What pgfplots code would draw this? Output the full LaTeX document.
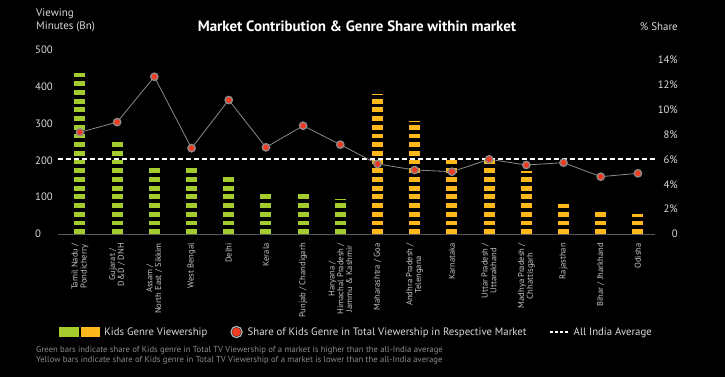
\documentclass[border=0pt]{standalone}
\usepackage{pgfplots}
\pgfplotsset{compat=1.18}
\usepackage{fontspec}
\setmainfont{PT Sans}
\definecolor{kgreen}{HTML}{A4CC2E}
\definecolor{korange}{HTML}{FFB81C}
\definecolor{kred}{HTML}{F03C23}
\definecolor{ringgray}{HTML}{8C8C8C}
\definecolor{ringlight}{HTML}{B4B4B4}
\definecolor{linegray}{HTML}{8A8A8A}
\definecolor{tickgray}{HTML}{D9D9D9}
\definecolor{labgray}{HTML}{C8C8C8}
\definecolor{footgray}{HTML}{8C8C8C}
\definecolor{axisgray}{HTML}{5A5A5A}
\begin{document}
\begin{tikzpicture}
\useasboundingbox (0bp,0bp) rectangle (725bp,-377bp);
\fill[black] (0bp,0bp) rectangle (725bp,-377bp);
\begin{axis}[
  at={(58bp,-234bp)}, anchor=south west,
  scale only axis, width=597bp, height=184bp,
  xmin=-0.59, xmax=15.46, ymin=0, ymax=500,
  clip=false,
  axis x line*=bottom, axis y line*=left,
  x axis line style={draw=axisgray, line width=0.6bp, -},
  y axis line style={draw=none},
  tick style={draw=none}, major tick length=0pt,
  /pgf/number format/assume math mode=true,
  ytick={0,100,200,300,400,500},
  yticklabels={0,100,200,300,400,500},
  yticklabel style={anchor=west, inner sep=0pt, xshift=-23bp, text=tickgray, font=\fontsize{10.8}{12}\selectfont},
  xtick={0,...,15},
  xticklabels={
    {Tamil Nadu /\\Pondicherry},
    {Gujarat /\\D\&D / DNH},
    {Assam /\\North East / Sikkim},
    {West Bengal},
    {Delhi},
    {Kerala},
    {Punjab / Chandigarh},
    {Haryana /\\Himachal Pradesh /\\Jammu \& Kashmir},
    {Maharashtra / Goa},
    {Andhra Pradesh /\\Telengana},
    {Karnataka},
    {Uttar Pradesh /\\Uttarakhand},
    {Madhya Pradesh /\\Chhattisgarh},
    {Rajasthan},
    {Bihar / Jharkhand},
    {Odisha}},
  xticklabel style={yshift=-9bp, rotate=90, anchor=east, inner sep=0pt, align=center, text=labgray, font=\fontsize{8.6}{8.8}\selectfont},
]
\addplot[ycomb, no marks, draw=kgreen, line width=11bp, dash pattern=on 4.8bp off 3.9bp] coordinates {
  (0,447) (1,254) (2,183) (3,183) (4,158) (5,113) (6,113) (7,95)
};
\addplot[ycomb, no marks, draw=korange, line width=11bp, dash pattern=on 4.8bp off 3.9bp] coordinates {
  (8,380) (9,308) (10,207) (11,210) (12,171) (13,82) (14,65) (15,54)
};
\end{axis}
\begin{axis}[
  at={(58bp,-234bp)}, anchor=south west,
  scale only axis, width=597bp, height=184bp,
  xmin=-0.59, xmax=15.46, ymin=0, ymax=14.8,
  clip=false,
  hide x axis,
  axis y line*=right,
  y axis line style={draw=none},
  tick style={draw=none}, major tick length=0pt,
  /pgf/number format/assume math mode=true,
  ytick={0,2,4,6,8,10,12,14},
  yticklabels={0,2\%,4\%,6\%,8\%,10\%,12\%,14\%},
  yticklabel style={anchor=east, inner sep=0pt, xshift=23bp, text=tickgray, font=\fontsize{10.8}{12}\selectfont},
  legend columns=3,
  legend cell align=left,
  legend style={at={(0.0017,-0.5326)}, anchor=west, draw=none, fill=none, inner sep=0pt, outer sep=0pt,
    text=tickgray, font=\fontsize{10.8}{12}\selectfont,
    /tikz/every odd column/.append style={column sep=3bp},
    /tikz/every even column/.append style={column sep=21bp}},
]
\addplot[forget plot, white, line width=2bp, dash pattern=on 5.3bp off 2.7bp] coordinates {(-0.59,6.02) (15.46,6.02)};
\addplot[forget plot, linegray, line width=0.8bp, mark=*, mark size=3.7bp,
  mark options={fill=kred, draw=ringgray, line width=1.3bp, solid}] coordinates {
  (0,8.18) (1,9.0) (2,12.65) (3,6.9) (4,10.78) (5,6.97) (6,8.71) (7,7.19)
  (8,5.63) (9,5.15) (10,5.01) (11,6.01) (12,5.55) (13,5.74) (14,4.61) (15,4.88)
};
\addlegendimage{legend image code/.code={
  \fill[kgreen] (0bp,0.6bp) rectangle (19bp,4.4bp);
  \fill[kgreen] (0bp,-4.4bp) rectangle (19bp,-0.6bp);
  \fill[korange] (22bp,0.6bp) rectangle (40bp,4.4bp);
  \fill[korange] (22bp,-4.4bp) rectangle (40bp,-0.6bp);}}
\addlegendentry{Kids Genre Viewership}
\addlegendimage{legend image code/.code={
  \fill[kred] (6bp,0bp) circle (4.2bp);
  \draw[ringlight, line width=1.2bp] (6bp,0bp) circle (5.6bp);}}
\addlegendentry{Share of Kids Genre in Total Viewership in Respective Market}
\addlegendimage{legend image code/.code={
  \draw[white, line width=1.2bp, dash pattern=on 3bp off 1.8bp] (0bp,0bp) -- (18bp,0bp);}}
\addlegendentry{All India Average}
\end{axis}
\node[anchor=center, inner sep=0pt, text=white, font=\bfseries\fontsize{15}{18}\selectfont] at (357bp,-26bp) {Market Contribution \& Genre Share within market};
\node[anchor=north west, align=left, inner sep=0pt, text=tickgray, font=\fontsize{11}{12.5}\selectfont] at (36bp,-9bp) {Viewing\\Minutes (Bn)};
\node[anchor=east, inner sep=0pt, text=tickgray, font=\fontsize{11}{12}\selectfont] at (678bp,-27bp) {\% Share};
\node[anchor=west, inner sep=0pt, text=footgray, font=\fontsize{8.7}{9}\selectfont] at (36bp,-350bp) {Green bars indicate share of Kids genre in Total TV Viewership of a market is higher than the all-India average};
\node[anchor=west, inner sep=0pt, text=footgray, font=\fontsize{8.7}{9}\selectfont] at (36bp,-360bp) {Yellow bars indicate share of Kids genre in Total TV Viewership of a market is lower than the all-India average};
\end{tikzpicture}
\end{document}
